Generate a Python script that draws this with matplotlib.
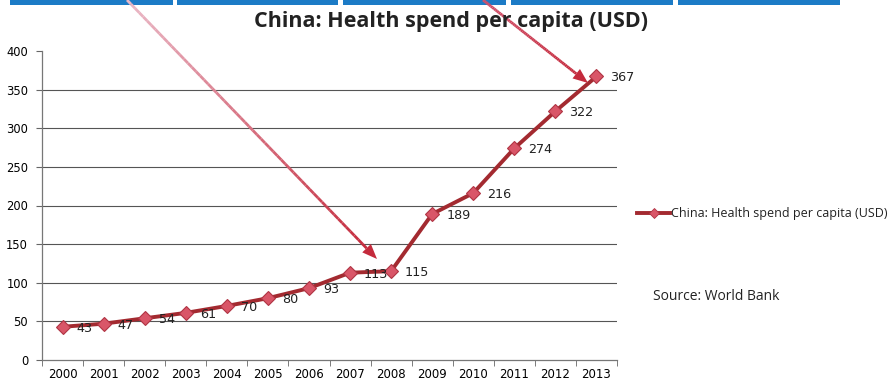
import numpy as np
import matplotlib
matplotlib.use("Agg")
import matplotlib.pyplot as plt
from matplotlib.collections import LineCollection
from matplotlib.patches import Polygon, Rectangle
from matplotlib.lines import Line2D

years = ["2000", "2001", "2002", "2003", "2004", "2005", "2006",
         "2007", "2008", "2009", "2010", "2011", "2012", "2013"]
spend = [43, 47, 54, 61, 70, 80, 93, 113, 115, 189, 216, 274, 322, 367]
series_name = "China: Health spend per capita (USD)"
title_text = "China: Health spend per capita (USD)"
source_text = "Source: World Bank"
y_ticks = [0, 50, 100, 150, 200, 250, 300, 350, 400]

W, H = 889, 383
fig = plt.figure(figsize=(W / 100, H / 100), dpi=100)
fig.patch.set_facecolor("white")


def fx(px):
    return px / W


def fy(py):
    return 1 - py / H


# plot area
ax = fig.add_axes([fx(42), fy(360), fx(617) - fx(42), fy(51) - fy(360)])
x = np.arange(len(years))
line_color = "#A32A30"
ax.plot(x, spend, color=line_color, lw=2.8, marker="D", ms=7.5,
        mfc="#D95668", mec="#B03444", mew=0.8, zorder=3, solid_capstyle="round")

for xi, v in zip(x, spend):
    ax.annotate(str(v), (xi, v), xytext=(10, -1), textcoords="offset points",
                ha="left", va="center", fontsize=9.2, color="#222222",
                family="DejaVu Sans", zorder=4)

ax.set_xlim(-0.5, len(years) - 0.5)
ax.set_ylim(0, 400)
ax.set_yticks(y_ticks)
ax.set_yticklabels([str(t) for t in y_ticks], fontsize=8.3, family="DejaVu Sans")
for t in y_ticks[1:-1]:
    ax.axhline(t, color="#555555", lw=0.8, zorder=1)

ax.set_xticks(x)
ax.set_xticklabels(years, fontsize=8.5, family="DejaVu Sans")
ax.set_xticks(np.arange(-0.5, len(years), 1.0), minor=True)
ax.tick_params(axis="x", which="major", length=0, pad=6)
ax.tick_params(axis="x", which="minor", length=4, color="#666666", direction="out")
ax.tick_params(axis="y", length=4, color="#666666", direction="out", pad=6)
for s in ("top", "right"):
    ax.spines[s].set_visible(False)
ax.spines["left"].set_color("#777777")
ax.spines["bottom"].set_color("#777777")
ax.spines["left"].set_linewidth(0.9)
ax.spines["bottom"].set_linewidth(0.9)

# title
fig.text(fx(451), fy(22), title_text, ha="center", va="center",
         fontsize=15.5, fontweight="bold", family="Open Sans", color="#222222")

# legend entry
fig.add_artist(Line2D([fx(637), fx(670)], [fy(213), fy(213)], color=line_color,
                      lw=2.8, transform=fig.transFigure))
fig.add_artist(Line2D([fx(653.5)], [fy(213)], marker="D", ms=5, mfc="#D95668",
                      mec="#B03444", mew=0.6, transform=fig.transFigure))
fig.text(fx(671), fy(213), series_name, ha="left", va="center", fontsize=9,
         family="Open Sans", color="#222222")

fig.text(fx(653), fy(297), source_text, ha="left", va="center", fontsize=10,
         family="Open Sans", color="#222222")

# blue header tabs
for x0, x1 in [(10, 173), (177, 338), (343, 506), (511, 673), (678, 840)]:
    fig.add_artist(Rectangle((fx(x0), fy(5)), fx(x1 - x0), fy(0) - fy(5),
                             transform=fig.transFigure, facecolor="#1C7BC6",
                             edgecolor="none"))


def gradient_arrow(p0, p1, c0, c1, lw=2.0, head_len=15, head_w=12):
    p0 = np.array(p0, float)
    p1 = np.array(p1, float)
    d = p1 - p0
    L = np.hypot(*d)
    u = d / L
    n = np.array([-u[1], u[0]])
    base = p1 - u * head_len
    ts = np.linspace(0, 1, 60)
    pts = p0[None, :] + (base - p0)[None, :] * ts[:, None]
    segs = [[(fx(a[0]), fy(a[1])), (fx(b[0]), fy(b[1]))] for a, b in zip(pts[:-1], pts[1:])]
    c0 = np.array(matplotlib.colors.to_rgb(c0))
    c1 = np.array(matplotlib.colors.to_rgb(c1))
    cols = [tuple(c0 + (c1 - c0) * t) for t in ts[:-1]]
    lc = LineCollection(segs, colors=cols, linewidths=lw, transform=fig.transFigure,
                        capstyle="butt")
    fig.add_artist(lc)
    tri = [p1, base + n * head_w / 2, base - n * head_w / 2]
    fig.add_artist(Polygon([(fx(a), fy(b)) for a, b in tri], closed=True,
                           transform=fig.transFigure, facecolor=tuple(c1),
                           edgecolor="none"))


gradient_arrow((127, 0), (377, 259), "#EAB8C6", "#C42A3C")
gradient_arrow((483, 0), (588, 83), "#D2506A", "#C42A3C")

fig.savefig("out.png", dpi=100, facecolor="white")
